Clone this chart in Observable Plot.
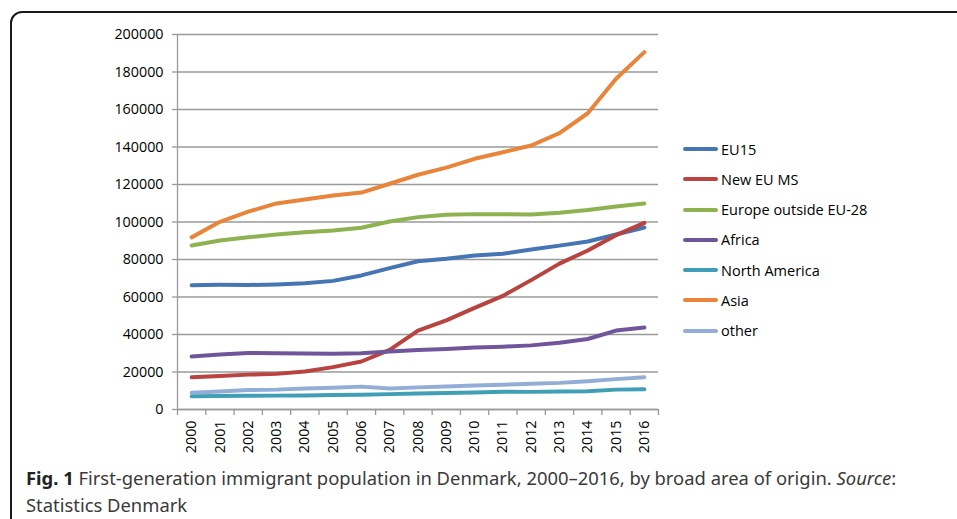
<!DOCTYPE html>
<html>
<head>
<meta charset="utf-8">
<script src="https://cdn.jsdelivr.net/npm/d3@7"></script>
<script src="https://cdn.jsdelivr.net/npm/@observablehq/plot@0.6"></script>
<style>
  html, body { margin: 0; padding: 0; background: #fff; }
  body { width: 957px; height: 519px; position: relative; overflow: hidden; font-family: "Open Sans", sans-serif; }
  #frame { position: absolute; left: 10px; top: 11px; width: 980px; height: 540px; border: 2px solid #1a1a1a; border-radius: 12px; box-sizing: border-box; }
  #chart { position: absolute; left: 0; top: 0; }
  #legend { position: absolute; left: 683px; top: 134px; font-family: "Open Sans", sans-serif; font-size: 14.5px; color: #000; }
  .item { height: 30.25px; display: flex; align-items: center; }
  .sw { width: 35px; height: 4px; border-radius: 2px; margin-right: 3px; }
  #caption { position: absolute; left: 26px; top: 464px; font-family: "Noto Sans", sans-serif; font-size: 18.4px; line-height: 27px; color: #3a3a3a; width: 920px; }
  #caption b { color: #222; }
</style>
</head>
<body>
<div id="frame"></div>
<div id="chart"></div>
<div id="legend"></div>
<div id="caption"><b>Fig. 1</b> First-generation immigrant population in Denmark, 2000–2016, by broad area of origin. <i>Source</i>:<br>Statistics Denmark</div>
<script>
const years = [2000,2001,2002,2003,2004,2005,2006,2007,2008,2009,2010,2011,2012,2013,2014,2015,2016];
const yTicks = [0,20000,40000,60000,80000,100000,120000,140000,160000,180000,200000];

const seriesNames = ["EU15","New EU MS","Europe outside EU-28","Africa","North America","Asia","other"];
const seriesColors = ["#4675b4","#b8433f","#8fb251","#71559b","#409fb6","#e9853a","#93aed6"];

const eu15       = [66300,66500,66400,66700,67300,68600,71500,75400,79100,80400,82100,83100,85300,87400,89600,93300,97100];
const newEuMs    = [17200,17900,18600,19000,20300,22600,25600,31800,42100,47500,54200,60600,69000,77800,84800,93000,99500];
const europeOut  = [87500,90100,91900,93300,94500,95500,96900,100300,102600,103900,104200,104100,104000,104900,106400,108300,109900];
const africa     = [28300,29300,30100,30000,29900,29700,30000,30900,31700,32300,33100,33500,34200,35600,37600,42100,43700];
const northAm    = [7100,7200,7300,7400,7500,7700,7900,8200,8500,8800,9100,9500,9400,9600,9700,10600,10800];
const asia       = [91800,100100,105500,109900,112000,114100,115700,120400,125200,129000,133700,137200,140800,147400,158000,176400,190600];
const other      = [8900,9600,10400,10600,11200,11600,12200,11200,11800,12300,12800,13200,13700,14200,15100,16200,17200];

const seriesValues = [eu15, newEuMs, europeOut, africa, northAm, asia, other];

const data = seriesNames.flatMap((name, s) =>
  years.map((year, i) => ({name, year, value: seriesValues[s][i]}))
);
const boundaries = d3.range(years.length + 1).map(i => years[0] - 0.5 + i);

const chart = Plot.plot({
  width: 957,
  height: 460,
  marginLeft: 177,
  marginRight: 299,
  marginTop: 34,
  marginBottom: 51,
  style: {fontFamily: "Open Sans, sans-serif", fontSize: "14px", background: "transparent", color: "#000"},
  x: {type: "linear", domain: [years[0] - 0.5, years[years.length - 1] + 0.5], label: null},
  y: {domain: [0, 200000], label: null},
  color: {domain: seriesNames, range: seriesColors},
  marks: [
    Plot.gridY(yTicks, {stroke: "#9a9a9a", strokeOpacity: 1, strokeWidth: 1.3}),
    Plot.axisY(yTicks, {tickSize: 5, tickPadding: 9, stroke: "#9a9a9a", strokeWidth: 1.3, fontSize: 14.3, tickFormat: d => String(d), fill: "#000", label: null}),
    Plot.ruleX([years[0] - 0.5], {stroke: "#9a9a9a", strokeWidth: 1.3}),
    Plot.ruleY([0], {stroke: "#9a9a9a", strokeWidth: 1.3}),
    Plot.axisX(boundaries, {tickSize: 6, stroke: "#9a9a9a", strokeWidth: 1.3, tickFormat: () => "", label: null}),
    Plot.axisX(years, {tickSize: 0, tickPadding: 11, tickRotate: -90, fontSize: 14.3, tickFormat: d => String(d), fill: "#000", label: null}),
    Plot.line(data, {x: "year", y: "value", z: "name", stroke: "name", strokeWidth: 4, strokeLinecap: "round", strokeLinejoin: "round"})
  ]
});
document.getElementById("chart").appendChild(chart);

const legend = document.getElementById("legend");
seriesNames.forEach((name, i) => {
  const row = document.createElement("div");
  row.className = "item";
  const sw = document.createElement("div");
  sw.className = "sw";
  sw.style.background = seriesColors[i];
  const t = document.createElement("span");
  t.textContent = name;
  row.appendChild(sw);
  row.appendChild(t);
  legend.appendChild(row);
});
</script>
</body>
</html>
